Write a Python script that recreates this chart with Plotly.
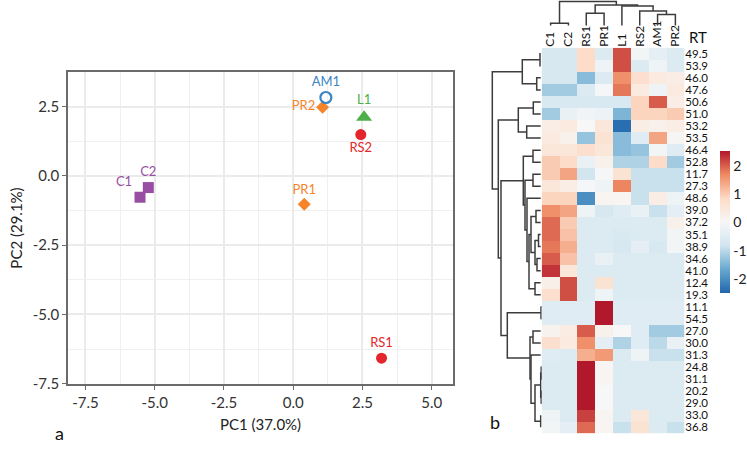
import plotly.graph_objects as go

W, H = 747, 457

# ---- panel a: PCA scores ----
samples = ["C1", "C2", "PR1", "PR2", "AM1", "L1", "RS1", "RS2"]
groups = ["C", "C", "PR", "PR", "AM", "L", "RS", "RS"]
pc1 = [-5.53, -5.23, 0.40, 1.06, 1.18, 2.56, 3.19, 2.44]
pc2 = [-0.77, -0.42, -1.02, 2.48, 2.83, 2.12, -6.58, 1.49]
label_pos = ["top left", "top center", "top center", "middle left",
             "top center", "top center", "top center", "bottom center"]

pc_ticks = [-7.5, -5.0, -2.5, 0.0, 2.5, 5.0]
pc_ticktext = ["-7.5", "-5.0", "-2.5", "0.0", "2.5", "5.0"]

# ---- panel b: heatmap (z-scores), rows = retention times ----
col_labels = ["C1", "C2", "RS1", "PR1", "L1", "RS2", "AM1", "PR2"]
rt_labels = ["49.5", "53.9", "46.0", "47.6", "50.6", "51.0", "53.2", "53.5",
             "46.4", "52.8", "11.7", "27.3", "48.6", "39.0", "37.2", "35.1",
             "38.9", "34.6", "41.0", "12.4", "19.3", "11.1", "54.5", "27.0",
             "30.0", "31.3", "24.8", "31.1", "20.2", "29.0", "33.0", "36.8"]
z_values = [
    [-0.7, -0.7, 0.8, -0.6, 2.1, -0.1, -0.4, -0.6],
    [-0.7, -0.7, 0.8, -0.2, 2.1, -0.6, -0.2, -0.6],
    [-0.7, -0.7, -1.4, -0.6, 1.6, 0.7, 0.4, 0.3],
    [-1.2, -1.2, -0.6, -0.05, 1.8, 0.4, -0.2, 0.4],
    [-0.65, -0.65, -0.65, -0.65, -0.65, 0.9, 2.0, 0.3],
    [-1.2, -0.3, -0.15, -0.25, -1.5, 0.9, 0.9, 1.0],
    [0.3, 0.4, 0.0, 0.5, -2.4, 0.3, 0.2, 0.3],
    [0.4, 0.2, -1.3, 0.6, -1.4, -0.5, 1.4, 0.05],
    [0.5, 0.5, 0.7, 0.5, -1.4, -1.3, -0.1, -0.5],
    [1.0, 0.8, -0.3, 0.2, -1.1, -1.1, 0.8, -1.2],
    [1.0, 1.4, -0.8, -0.05, 0.6, -0.9, -0.9, -0.9],
    [0.5, 0.3, -0.05, -0.2, 1.7, -0.9, -0.9, -0.9],
    [0.9, 0.9, -2.0, 0.1, 0.1, -0.9, 0.3, -0.2],
    [1.6, 1.4, -0.2, -0.7, -0.5, -0.3, -0.9, -0.4],
    [1.9, 1.0, -0.6, -0.6, -0.6, -0.6, -0.6, 0.2],
    [1.9, 1.1, -0.6, -0.6, -0.65, -0.6, -0.6, -0.1],
    [1.8, 1.3, -0.6, -0.6, -0.7, -0.4, -0.7, -0.1],
    [2.0, 1.1, -0.6, -0.3, -0.6, -0.6, -0.6, -0.6],
    [2.3, 0.5, -0.6, -0.6, -0.6, -0.6, -0.6, -0.6],
    [0.25, 2.1, -0.6, 0.6, -0.6, -0.6, -0.6, -0.6],
    [0.7, 2.1, -0.6, -0.2, -0.6, -0.6, -0.6, -0.6],
    [-0.5, -0.5, -0.5, 2.5, -0.5, -0.5, -0.5, -0.5],
    [-0.5, -0.5, -0.5, 2.5, -0.5, -0.5, -0.5, -0.5],
    [0.15, 0.35, 2.0, 0.2, 0.0, -0.5, -1.2, -1.2],
    [0.7, 0.4, 1.6, -0.4, -1.1, -0.5, -1.0, -0.3],
    [-0.5, -0.6, 1.3, 1.5, -0.6, -0.2, -0.9, -0.9],
    [-0.6, -0.6, 2.5, 0.1, -0.6, -0.6, -0.6, -0.6],
    [-0.6, -0.6, 2.5, 0.1, -0.6, -0.6, -0.6, -0.6],
    [-0.6, -0.6, 2.5, 0.0, -0.6, -0.6, -0.6, -0.6],
    [-0.6, -0.6, 2.5, 0.0, -0.6, -0.6, -0.6, -0.6],
    [-0.2, -0.6, 2.2, 0.1, -0.6, 0.5, -0.6, -0.6],
    [-0.1, -0.4, 1.9, 0.1, -0.9, 0.6, -0.6, -0.9],
]
cbar_ticks = [-2, -1, 0, 1, 2]
cbar_ticktext = ["-2", "-1", "0", "1", "2"]

# dendrogram merges [child a, child b, height]; ids >= n are earlier merges
col_merges = [
    [0, 1, 4.7], [2, 3, 14.7], [6, 7, 13.5], [5, 10, 17.0],
    [4, 11, 22.0], [9, 12, 23.0], [8, 13, 26.5],
]
row_merges = [
    [0, 1, 1.7], [2, 3, 5.0], [32, 33, 19.4],
    [4, 5, 8.4], [6, 7, 15.0], [35, 36, 23.4],
    [8, 9, 8.7], [10, 11, 8.7], [13, 14, 5.7], [15, 16, 3.2], [17, 18, 4.7],
    [41, 42, 6.7], [40, 43, 10.7], [19, 20, 6.7], [44, 45, 12.7],
    [12, 46, 14.7], [39, 47, 16.7], [38, 48, 18.4],
    [21, 22, 0.7], [23, 24, 8.7], [26, 27, 0.5], [28, 29, 0.5], [52, 53, 1.0],
    [30, 31, 1.0], [54, 55, 6.7], [25, 56, 10.7], [51, 57, 11.7],
    [50, 58, 34.4], [49, 59, 40.7], [37, 60, 43.4], [34, 61, 49.4],
]

group_style = {
    "C": dict(color="#984EA3", symbol="square", size=11),
    "PR": dict(color="#F5842B", symbol="diamond", size=10),
    "AM": dict(color="#3A85C5", symbol="circle-open", size=11),
    "L": dict(color="#4DAF4A", symbol="triangle-up", size=14),
    "RS": dict(color="#E3262B", symbol="circle", size=11),
}

FONT = "Lato, 'Open Sans', sans-serif"


def px_x(p):
    return p / W


def px_y(p):
    return 1 - p / H


def dendro_lines(merges, n, base=0.0):
    pos = {i: float(i) for i in range(n)}
    hgt = {i: base for i in range(n)}
    p, h = [], []
    for k, (a, b, height) in enumerate(merges):
        p += [pos[a], pos[a], pos[b], pos[b], None]
        h += [hgt[a], height, height, hgt[b], None]
        pos[n + k] = (pos[a] + pos[b]) / 2
        hgt[n + k] = height
    return p, h


fig = go.Figure()

for i, s in enumerate(samples):
    st = group_style[groups[i]]
    fig.add_trace(go.Scatter(
        x=[pc1[i]], y=[pc2[i]], mode="markers+text", text=[s],
        textposition=label_pos[i],
        textfont=dict(color=st["color"], size=13, family=FONT),
        marker=dict(color=st["color"], symbol=st["symbol"], size=st["size"],
                    line=dict(width=2.2 if st["symbol"] == "circle-open" else 0,
                              color=st["color"])),
        showlegend=False, xaxis="x", yaxis="y", cliponaxis=False,
    ))

rdbu = [[0.0, "#2166AC"], [1 / 6, "#67A9CF"], [2 / 6, "#D1E5F0"], [0.5, "#F7F7F7"],
        [4 / 6, "#FDDBC7"], [5 / 6, "#EF8A62"], [1.0, "#B2182B"]]

fig.add_trace(go.Heatmap(
    z=z_values, x=list(range(len(col_labels))), y=list(range(len(rt_labels))),
    colorscale=rdbu, zmin=-2.5, zmax=2.5, xaxis="x2", yaxis="y2",
    colorbar=dict(thickness=10, len=141.6 / H, lenmode="fraction",
                  y=px_y(222.5), yanchor="middle", x=px_x(720), xanchor="left",
                  xpad=0, ypad=0, outlinewidth=0, ticks="",
                  tickvals=cbar_ticks, ticktext=cbar_ticktext,
                  tickfont=dict(size=14, family=FONT, color="#222")),
))

cx, cy = dendro_lines(col_merges, len(col_labels), base=2.5)
fig.add_trace(go.Scatter(x=cx, y=cy, mode="lines", xaxis="x3", yaxis="y3",
                         line=dict(color="#3C3C3C", width=1.5), showlegend=False,
                         hoverinfo="skip"))
ry, rx = dendro_lines(row_merges, len(rt_labels), base=1.0)
fig.add_trace(go.Scatter(x=rx, y=ry, mode="lines", xaxis="x4", yaxis="y4",
                         line=dict(color="#3C3C3C", width=1.5), showlegend=False,
                         hoverinfo="skip"))

axis_common = dict(showline=True, mirror=True, linecolor="#6B6B6B", linewidth=1.5,
                   ticks="outside", ticklen=4, tickcolor="#6B6B6B", tickwidth=1.2,
                   showgrid=True, gridcolor="#EBEBEB", gridwidth=1.5, zeroline=False,
                   tickvals=pc_ticks, ticktext=pc_ticktext, automargin=False,
                   tickfont=dict(size=15, family=FONT, color="#333"),
                   minor=dict(dtick=1.25, tick0=0, showgrid=True,
                              gridcolor="#F0F0F0", gridwidth=1, ticks=""))
blank = dict(showgrid=False, zeroline=False, showticklabels=False, ticks="",
             showline=False, automargin=False)

fig.update_layout(
    width=W, height=H, margin=dict(l=0, r=0, t=0, b=0),
    paper_bgcolor="white", plot_bgcolor="white",
    font=dict(family=FONT, color="#222"),
    xaxis=dict(axis_common, domain=[px_x(68), px_x(453)], range=[-8.13, 5.77],
               anchor="y",
               title=dict(text="PC1 (37.0%)", font=dict(size=15, color="#222"),
                          standoff=10)),
    yaxis=dict(axis_common, domain=[px_y(384), px_y(72)], range=[-7.51, 3.75],
               anchor="x",
               title=dict(text="PC2 (29.1%)", font=dict(size=15, color="#222"),
                          standoff=6)),
    xaxis2=dict(domain=[px_x(541.7), px_x(684.3)], range=[-0.5, 7.5], anchor="y2",
                side="top", tickangle=-90, tickvals=list(range(len(col_labels))),
                ticktext=col_labels, ticks="", showgrid=False, zeroline=False,
                automargin=False, tickfont=dict(size=12, family=FONT, color="#111")),
    yaxis2=dict(domain=[px_y(433.3), px_y(47.7)], range=[31.5, -0.5], anchor="x2",
                side="right", tickvals=list(range(len(rt_labels))),
                ticktext=rt_labels, ticks="", showgrid=False, zeroline=False,
                automargin=False, tickfont=dict(size=11.5, family=FONT, color="#111")),
    xaxis3=dict(blank, domain=[px_x(541.7), px_x(684.3)], range=[-0.5, 7.5],
                anchor="y3"),
    yaxis3=dict(blank, domain=[px_y(28), 1.0], range=[0, 28], anchor="x3"),
    xaxis4=dict(blank, domain=[px_x(490), px_x(541.7)], range=[51.7, 0],
                anchor="y4"),
    yaxis4=dict(blank, domain=[px_y(433.3), px_y(47.7)], range=[31.5, -0.5],
                anchor="x4"),
    annotations=[
        dict(text="RT", x=px_x(687), y=px_y(37.5), xref="paper", yref="paper",
             xanchor="left", yanchor="middle", showarrow=False,
             font=dict(size=15, family=FONT, color="#111")),
        dict(text="a", x=px_x(53), y=px_y(446), xref="paper", yref="paper",
             showarrow=False, font=dict(size=18, family=FONT, color="#111")),
        dict(text="b", x=px_x(495), y=px_y(435), xref="paper", yref="paper",
             showarrow=False, font=dict(size=18, family=FONT, color="#111")),
    ],
)

# the page body has a default 8px margin; remove it so the figure sits at (0, 0)
fig.write_html("out.html", config={"displayModeBar": False},
               post_script="document.body.style.margin='0';")
